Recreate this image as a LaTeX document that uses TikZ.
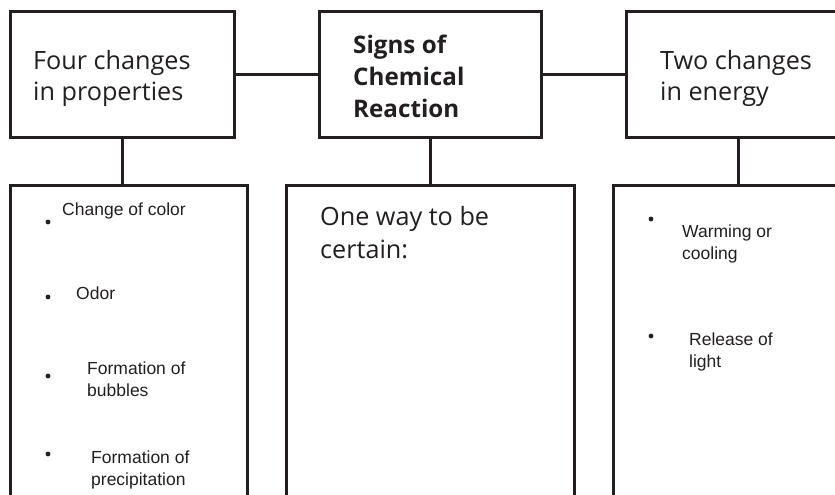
\documentclass[tikz,border=0pt]{standalone}
\usepackage{fontspec}
\setmainfont{Open Sans}
\newfontfamily\listfont{Liberation Sans}
\definecolor{ink}{HTML}{231F20}
\begin{document}
\begin{tikzpicture}[x=1pt,y=-1pt,
  box/.style={draw=ink,line width=3pt,rectangle,inner sep=0pt},
  conn/.style={draw=ink,line width=3pt},
  head/.style={anchor=base west,inner sep=0pt,text=ink,font=\fontsize{25.2}{31}\selectfont,align=left},
  bhead/.style={head,font=\fontsize{24.2}{32}\bfseries\selectfont},
  item/.style={anchor=base west,inner sep=0pt,text=ink,font=\listfont\fontsize{17.5}{21.5}\selectfont,align=left},
  dot/.style={circle,fill=ink,inner sep=0pt,minimum size=4.8pt}]
\useasboundingbox (0,0) rectangle (835,495);
\fill[white] (0,0) rectangle (835,495);
\clip (0,0) rectangle (835,495);
% top boxes
\node[box,minimum width=224pt,minimum height=125pt] (tl) at (122,74.5) {};
\node[box,minimum width=222pt,minimum height=125pt] (tc) at (430,74.5) {};
\node[box,minimum width=224pt,minimum height=125pt] (tr) at (738,74.5) {};
% bottom boxes
\node[box,minimum width=237pt,minimum height=330pt] (bl) at (128.5,350) {};
\node[box,minimum width=288pt,minimum height=330pt] (bc) at (430,350) {};
\node[box,minimum width=250pt,minimum height=330pt] (br) at (738,350) {};
% connectors
\draw[conn] (tl.east) -- (tc.west);
\draw[conn] (tc.east) -- (tr.west);
\draw[conn] (tl.south) -- (tl.south |- bl.north);
\draw[conn] (tc.south) -- (tc.south |- bc.north);
\draw[conn] (tr.south) -- (tr.south |- br.north);
% header texts (anchor at baseline of last line)
\node[head] (t1) at (33,100) {Four changes\\in properties};
\node[bhead] (t2) at (353,117) {Signs of\\Chemical\\Reaction};
\node[head] (t3) at (660,100) {Two changes\\in energy};
\node[head,font=\fontsize{25.2}{33}\selectfont] (t4) at (320,258) {One way to be\\certain:};
% left list
\node[dot] (d1) at (48,222) {};
\node[item] (i1) at (62,215) {Change of color};
\node[dot] (d2) at (48,297) {};
\node[item] (i2) at (76,299) {Odor};
\node[dot] (d3) at (48,376) {};
\node[item] (i3) at (87,396) {Formation of\\bubbles};
\node[dot] (d4) at (48,454) {};
\node[item] (i4) at (91,485) {Formation of\\precipitation};
% right list
\node[dot] (d5) at (651,219) {};
\node[item] (i5) at (682,259) {Warming or\\cooling};
\node[dot] (d6) at (651,336) {};
\node[item] (i6) at (689,367) {Release of\\light};
\end{tikzpicture}
\end{document}
